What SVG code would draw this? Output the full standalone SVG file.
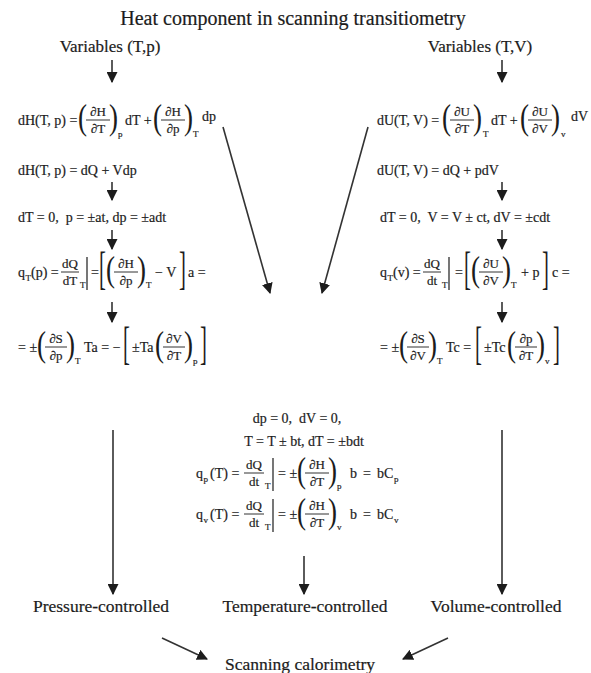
<svg xmlns="http://www.w3.org/2000/svg" width="591" height="673" viewBox="0 0 591 673">
<defs>
<style>
text{font-family:"Liberation Serif","Times New Roman",serif;fill:#1c1c1c;stroke:#1c1c1c;stroke-width:0.2}
.e{font-size:14px}
.n{font-size:13px;text-anchor:middle}
.s{font-size:9px}
.bp{font-size:36px;stroke-width:0}
.bb{font-size:46px;stroke-width:0}
.lb{font-size:17.5px;text-anchor:middle}
.vl{font-size:17px;text-anchor:middle}
.ti{font-size:20px;text-anchor:middle}
.fl{stroke:#1c1c1c;stroke-width:0.9}
.bar{stroke:#1c1c1c;stroke-width:1.2}
.c{stroke:#333;stroke-width:1.6;fill:none}
</style>
<marker id="ah" viewBox="0 0 10 10" refX="9" refY="5" markerWidth="11" markerHeight="11" orient="auto" markerUnits="userSpaceOnUse">
<path d="M0,0 L10,5 L0,10 z" fill="#1c1c1c"/>
</marker>
</defs>
<rect width="591" height="673" fill="#ffffff"/>

<g id="title"><text class="ti" x="293" y="25">Heat component in scanning transitiometry</text></g>
<g id="vars-tp"><text class="vl" x="110" y="52">Variables (T,p)</text></g>
<g id="vars-tv"><text class="vl" x="480" y="52">Variables (T,V)</text></g>

<g id="eq-l1">
<text class="e" x="18" y="125">dH(T, p) =</text>
<text class="bp" transform="translate(78,129) scale(0.75,1)">(</text>
<text class="n" x="98" y="116">∂H</text><line class="fl" x1="86" y1="120" x2="110" y2="120"/><text class="n" x="98" y="133">∂T</text>
<text class="bp" transform="translate(109,129) scale(0.75,1)">)</text>
<text class="s" x="118" y="137">p</text>
<text class="e" x="125" y="125">dT +</text>
<text class="bp" transform="translate(153,129) scale(0.75,1)">(</text>
<text class="n" x="173" y="116">∂H</text><line class="fl" x1="161" y1="120" x2="185" y2="120"/><text class="n" x="173" y="133">∂p</text>
<text class="bp" transform="translate(184,129) scale(0.75,1)">)</text>
<text class="s" x="193" y="137">T</text>
<text class="e" x="202" y="121">dp</text>
</g>
<g id="eq-l2"><text class="e" x="18" y="175">dH(T, p) = dQ + Vdp</text></g>
<g id="eq-l3"><text class="e" x="18" y="222">dT = 0,&#160; p = ±at, dp = ±adt</text></g>
<g id="eq-l4">
<text class="e" x="18" y="277">q</text><text class="s" x="25.5" y="281">T</text><text class="e" x="31" y="277">(p) =</text>
<text class="n" x="70" y="268">dQ</text><line class="fl" x1="61" y1="272" x2="79" y2="272"/><text class="n" x="70" y="285">dT</text>
<text class="s" x="80" y="288">T</text>
<line class="bar" x1="87" y1="257" x2="87" y2="290"/>
<text class="e" x="91" y="277">=</text>
<text class="bb" transform="translate(99,284) scale(0.45,1)">[</text>
<text class="bp" transform="translate(106,281) scale(0.75,1)">(</text>
<text class="n" x="126" y="268">∂H</text><line class="fl" x1="114" y1="272" x2="138" y2="272"/><text class="n" x="126" y="285">∂p</text>
<text class="bp" transform="translate(137,281) scale(0.75,1)">)</text>
<text class="s" x="146" y="288">T</text>
<text class="e" x="155" y="277">− V</text>
<text class="bb" transform="translate(179,284) scale(0.45,1)">]</text>
<text class="e" x="188" y="277">a =</text>
</g>
<g id="eq-l5">
<text class="e" x="18" y="352">= ±</text>
<text class="bp" transform="translate(37,356) scale(0.75,1)">(</text>
<text class="n" x="56" y="343">∂S</text><line class="fl" x1="45" y1="347" x2="67" y2="347"/><text class="n" x="56" y="360">∂p</text>
<text class="bp" transform="translate(66,356) scale(0.75,1)">)</text>
<text class="s" x="75" y="364">T</text>
<text class="e" x="84" y="352">Ta = −</text>
<text class="bb" transform="translate(123,359) scale(0.45,1)">[</text>
<text class="e" x="132" y="352">±Ta</text>
<text class="bp" transform="translate(155,356) scale(0.75,1)">(</text>
<text class="n" x="174" y="343">∂V</text><line class="fl" x1="163" y1="347" x2="185" y2="347"/><text class="n" x="174" y="360">∂T</text>
<text class="bp" transform="translate(184,356) scale(0.75,1)">)</text>
<text class="s" x="193" y="364">p</text>
<text class="bb" transform="translate(200,359) scale(0.45,1)">]</text>
</g>

<g id="eq-r1">
<text class="e" x="377" y="125">dU(T, V) =</text>
<text class="bp" transform="translate(442,129) scale(0.75,1)">(</text>
<text class="n" x="462" y="116">∂U</text><line class="fl" x1="450" y1="120" x2="474" y2="120"/><text class="n" x="462" y="133">∂T</text>
<text class="bp" transform="translate(473,129) scale(0.75,1)">)</text>
<text class="s" x="483" y="137">T</text>
<text class="e" x="491" y="125">dT +</text>
<text class="bp" transform="translate(520,129) scale(0.75,1)">(</text>
<text class="n" x="540" y="116">∂U</text><line class="fl" x1="528" y1="120" x2="552" y2="120"/><text class="n" x="540" y="133">∂V</text>
<text class="bp" transform="translate(551,129) scale(0.75,1)">)</text>
<text class="s" x="561" y="137">v</text>
<text class="e" x="571" y="121">dV</text>
</g>
<g id="eq-r2"><text class="e" x="377" y="175">dU(T, V) = dQ + pdV</text></g>
<g id="eq-r3"><text class="e" x="380" y="222">dT = 0,&#160; V = V ± ct, dV = ±cdt</text></g>
<g id="eq-r4">
<text class="e" x="380" y="277">q</text><text class="s" x="387.5" y="281">T</text><text class="e" x="393" y="277">(v) =</text>
<text class="n" x="432" y="268">dQ</text><line class="fl" x1="423" y1="272" x2="441" y2="272"/><text class="n" x="432" y="285">dt</text>
<text class="s" x="442" y="288">T</text>
<line class="bar" x1="449" y1="257" x2="449" y2="290"/>
<text class="e" x="455" y="277">=</text>
<text class="bb" transform="translate(464,284) scale(0.45,1)">[</text>
<text class="bp" transform="translate(471,281) scale(0.75,1)">(</text>
<text class="n" x="491" y="268">∂U</text><line class="fl" x1="479" y1="272" x2="503" y2="272"/><text class="n" x="491" y="285">∂V</text>
<text class="bp" transform="translate(502,281) scale(0.75,1)">)</text>
<text class="s" x="511" y="288">T</text>
<text class="e" x="521" y="277">+ p</text>
<text class="bb" transform="translate(542,284) scale(0.45,1)">]</text>
<text class="e" x="552" y="277">c =</text>
</g>
<g id="eq-r5">
<text class="e" x="380" y="352">= ±</text>
<text class="bp" transform="translate(399,356) scale(0.75,1)">(</text>
<text class="n" x="418" y="343">∂S</text><line class="fl" x1="407" y1="347" x2="429" y2="347"/><text class="n" x="418" y="360">∂V</text>
<text class="bp" transform="translate(428,356) scale(0.75,1)">)</text>
<text class="s" x="437" y="364">T</text>
<text class="e" x="446" y="352">Tc =</text>
<text class="bb" transform="translate(475,359) scale(0.45,1)">[</text>
<text class="e" x="484" y="352">±Tc</text>
<text class="bp" transform="translate(507,356) scale(0.75,1)">(</text>
<text class="n" x="526" y="343">∂p</text><line class="fl" x1="515" y1="347" x2="537" y2="347"/><text class="n" x="526" y="360">∂T</text>
<text class="bp" transform="translate(536,356) scale(0.75,1)">)</text>
<text class="s" x="545" y="364">v</text>
<text class="bb" transform="translate(553,359) scale(0.45,1)">]</text>
</g>

<g id="eq-c1"><text class="e" x="297" y="423" text-anchor="middle">dp = 0,&#160; dV = 0,</text></g>
<g id="eq-c2"><text class="e" x="304" y="446" text-anchor="middle">T = T ± bt, dT = ±bdt</text></g>
<g id="eq-c3">
<text class="e" x="196" y="478">q</text><text class="s" x="203.5" y="482">p</text><text class="e" x="210" y="478">(T) =</text>
<text class="n" x="254" y="469">dQ</text><line class="fl" x1="244" y1="473" x2="264" y2="473"/><text class="n" x="254" y="486">dt</text>
<text class="s" x="265" y="489">T</text>
<line class="bar" x1="273" y1="458" x2="273" y2="491"/>
<text class="e" x="278" y="478">= ±</text>
<text class="bp" transform="translate(297,482) scale(0.75,1)">(</text>
<text class="n" x="317" y="469">∂H</text><line class="fl" x1="305" y1="473" x2="329" y2="473"/><text class="n" x="317" y="486">∂T</text>
<text class="bp" transform="translate(328,482) scale(0.75,1)">)</text>
<text class="s" x="337" y="489">p</text>
<text class="e" x="350" y="478">b</text><text class="e" x="363" y="478">=</text><text class="e" x="377" y="478">bC</text><text class="s" x="394" y="482">p</text>
</g>
<g id="eq-c4">
<text class="e" x="196" y="519">q</text><text class="s" x="203.5" y="523">v</text><text class="e" x="210" y="519">(T) =</text>
<text class="n" x="254" y="510">dQ</text><line class="fl" x1="244" y1="514" x2="264" y2="514"/><text class="n" x="254" y="527">dt</text>
<text class="s" x="265" y="530">T</text>
<line class="bar" x1="273" y1="499" x2="273" y2="532"/>
<text class="e" x="278" y="519">= ±</text>
<text class="bp" transform="translate(297,523) scale(0.75,1)">(</text>
<text class="n" x="317" y="510">∂H</text><line class="fl" x1="305" y1="514" x2="329" y2="514"/><text class="n" x="317" y="527">∂T</text>
<text class="bp" transform="translate(328,523) scale(0.75,1)">)</text>
<text class="s" x="337" y="530">v</text>
<text class="e" x="350" y="519">b</text><text class="e" x="363" y="519">=</text><text class="e" x="377" y="519">bC</text><text class="s" x="394" y="523">v</text>
</g>

<g id="pressure"><text class="lb" x="101" y="612">Pressure-controlled</text></g>
<g id="temperature"><text class="lb" x="305" y="612">Temperature-controlled</text></g>
<g id="volume"><text class="lb" x="496" y="612">Volume-controlled</text></g>
<g id="scanning"><text class="lb" x="300" y="670">Scanning calorimetry</text></g>

<g id="connectors">
<line class="c" x1="112" y1="60" x2="112" y2="82" marker-end="url(#ah)"/>
<line class="c" x1="112" y1="182" x2="112" y2="200" marker-end="url(#ah)"/>
<line class="c" x1="112" y1="230" x2="112" y2="249" marker-end="url(#ah)"/>
<line class="c" x1="112" y1="302" x2="112" y2="322" marker-end="url(#ah)"/>
<line class="c" x1="502" y1="60" x2="502" y2="82" marker-end="url(#ah)"/>
<line class="c" x1="502" y1="182" x2="502" y2="200" marker-end="url(#ah)"/>
<line class="c" x1="502" y1="230" x2="502" y2="249" marker-end="url(#ah)"/>
<line class="c" x1="502" y1="302" x2="502" y2="322" marker-end="url(#ah)"/>
<line class="c" x1="223" y1="127" x2="270" y2="293" marker-end="url(#ah)"/>
<line class="c" x1="368" y1="127" x2="322" y2="293" marker-end="url(#ah)"/>
<line class="c" x1="113" y1="430" x2="113" y2="594" marker-end="url(#ah)"/>
<line class="c" x1="304" y1="556" x2="304" y2="594" marker-end="url(#ah)"/>
<line class="c" x1="502" y1="430" x2="502" y2="594" marker-end="url(#ah)"/>
<line class="c" x1="162" y1="638" x2="207" y2="659" marker-end="url(#ah)"/>
<line class="c" x1="448" y1="638" x2="403" y2="659" marker-end="url(#ah)"/>
</g>
</svg>
